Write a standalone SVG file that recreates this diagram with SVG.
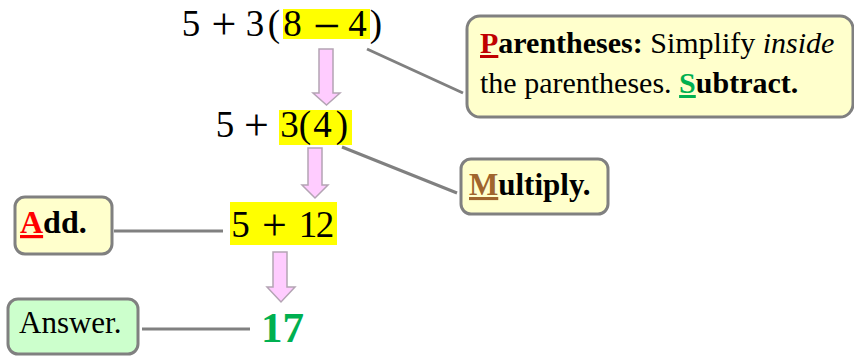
<svg xmlns="http://www.w3.org/2000/svg" width="854" height="356" viewBox="0 0 854 356">
<style>
.math{font-family:"Liberation Serif","Times New Roman",serif;font-size:37px;fill:#000;text-anchor:middle}
.op{font-size:44px}
.mn{font-size:48px}
.lbl{font-family:"Liberation Serif","Times New Roman",serif;fill:#000}
.box{stroke:#808080;stroke-width:3}
.yel{fill:#ffffcc}
.hl{fill:#ffff00}
.arr{fill:#ffccff;stroke:#b4a4b4;stroke-width:1.5}
.conn{stroke:#808080;stroke-width:3;fill:none}
.b{font-weight:bold}
.u{text-decoration:underline}
</style>
<rect width="854" height="356" fill="#ffffff"/>
<g id="connectors">
<line class="conn" x1="367" y1="49" x2="463" y2="93"/>
<line class="conn" x1="342" y1="147" x2="457" y2="193"/>
<line class="conn" x1="114" y1="231" x2="223" y2="231"/>
<line class="conn" x1="142" y1="329" x2="250" y2="329"/>
<polygon class="arr" points="319,49 333,49 333,93 340,93 326.5,105 313,93 319,93"/>
<polygon class="arr" points="308,148 322,148 322,185 328,185 315,198 302,185 308,185"/>
<polygon class="arr" points="273,252 287,252 287,287 295,287 281,302 267,287 273,287"/>
</g>
<g id="expr1">
<rect class="hl" x="283" y="9" width="87" height="30"/>
<text class="math"><tspan x="191" y="36">5</tspan><tspan x="224" y="39" class="op">+</tspan><tspan x="255" y="36">3</tspan><tspan x="274" y="36">(</tspan><tspan x="292.5" y="36">8</tspan><tspan x="326.5" y="42" class="mn">−</tspan><tspan x="357.5" y="36">4</tspan><tspan x="376" y="36">)</tspan></text>
</g>
<g id="expr2">
<rect class="hl" x="279" y="110" width="73" height="35"/>
<text class="math"><tspan x="225" y="137">5</tspan><tspan x="256.5" y="140" class="op">+</tspan><tspan x="289.5" y="137">3</tspan><tspan x="305" y="137">(</tspan><tspan x="322.5" y="137">4</tspan><tspan x="342" y="137">)</tspan></text>
</g>
<g id="expr3">
<rect class="hl" x="230" y="202" width="107" height="43"/>
<text class="math"><tspan x="240.5" y="237">5</tspan><tspan x="274.5" y="240" class="op">+</tspan><tspan x="308" y="237">1</tspan><tspan x="325" y="237">2</tspan></text>
</g>
<g id="answer-value">
<text class="lbl b" x="282.5" y="342" font-size="43" text-anchor="middle" style="fill:#00b050">17</text>
</g>
<g id="parentheses-note">
<rect class="box yel" x="467" y="16" width="386" height="101" rx="13"/>
<text class="lbl" x="480" y="53" font-size="30"><tspan class="b u" style="fill:#c00000">P</tspan><tspan class="b">arentheses:</tspan> Simplify <tspan font-style="italic">inside</tspan></text>
<text class="lbl" x="480" y="93" font-size="30">the parentheses. <tspan class="b u" style="fill:#00b050">S</tspan><tspan class="b">ubtract.</tspan></text>
</g>
<g id="multiply-note">
<rect class="box yel" x="461" y="159" width="147" height="55" rx="10"/>
<text class="lbl b" x="469" y="195" font-size="31"><tspan class="u" style="fill:#a0652d">M</tspan>ultiply.</text>
</g>
<g id="add-note">
<rect class="box yel" x="15" y="197" width="97" height="57" rx="10"/>
<text class="lbl b" x="20" y="233" font-size="32"><tspan class="u" style="fill:#ff0000">A</tspan>dd.</text>
</g>
<g id="answer-note">
<rect class="box" fill="#ccffcc" x="8" y="299" width="130" height="55" rx="10"/>
<text class="lbl" x="19" y="333" font-size="31">Answer.</text>
</g>
</svg>
